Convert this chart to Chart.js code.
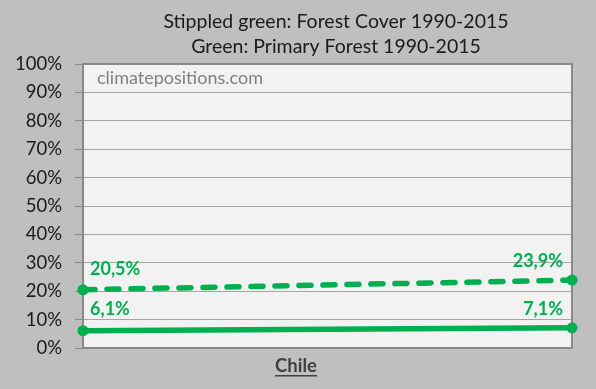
<!DOCTYPE html>
<html><head><meta charset="utf-8">
<script src="https://cdn.jsdelivr.net/npm/chart.js@4/dist/chart.umd.min.js"></script>
<style>html,body{margin:0;padding:0;background:#bfbfbf;}#c{display:block;}</style>
</head><body>
<canvas id="c" width="596" height="389"></canvas>
<script>
const years = ['1990', '2015'];
const forestCover = [20.5, 23.9];
const primaryForest = [6.1, 7.1];
const forestLabels = ['20,5%', '23,9%'];
const primaryLabels = ['6,1%', '7,1%'];
const titleLines = ['Stippled green: Forest Cover 1990-2015', 'Green: Primary Forest 1990-2015'];
const countryLabel = 'Chile';
const watermark = 'climatepositions.com';

const GREEN = '#00b050';
const FONT = 'Lato, "Liberation Sans", sans-serif';

const decor = {
  id: 'decor',
  beforeDraw(chart) {
    const {ctx, chartArea: a} = chart;
    ctx.save();
    ctx.fillStyle = '#bfbfbf';
    ctx.fillRect(0, 0, chart.width, chart.height);
    ctx.fillStyle = '#f2f2f2';
    ctx.fillRect(a.left, a.top, a.right - a.left, a.bottom - a.top);
    ctx.restore();
  },
  beforeDatasetsDraw(chart) {
    const {ctx, chartArea: a} = chart;
    ctx.save();
    ctx.strokeStyle = '#898989';
    ctx.lineWidth = 2;
    ctx.strokeRect(a.left, a.top, a.right - a.left, a.bottom - a.top);
    // watermark
    ctx.fillStyle = '#7f7f7f';
    ctx.font = '18px ' + FONT;
    ctx.textBaseline = 'middle';
    ctx.textAlign = 'left';
    ctx.fillText(watermark, a.left + 14, a.top + 14);
    // title
    ctx.fillStyle = '#1a1a1a';
    ctx.font = '19.5px ' + FONT;
    ctx.textAlign = 'center';
    ctx.fillText(titleLines[0], 336, 22);
    ctx.fillText(titleLines[1], 336, 47);
    // x label
    ctx.fillStyle = '#404040';
    ctx.font = 'bold 18.5px ' + FONT;
    ctx.fillText(countryLabel, 296, 366);
    const w = ctx.measureText(countryLabel).width;
    ctx.fillRect(296 - w / 2, 375, w, 1.5);
    ctx.restore();
  },
  afterDatasetsDraw(chart) {
    const {ctx} = chart;
    ctx.save();
    ctx.fillStyle = GREEN;
    ctx.font = 'bold 18px ' + FONT;
    ctx.textBaseline = 'middle';
    const sets = [[0, forestLabels], [1, primaryLabels]];
    sets.forEach(([di, labels]) => {
      const meta = chart.getDatasetMeta(di);
      meta.data.forEach((pt, i) => {
        if (i === 0) {
          ctx.textAlign = 'left';
          ctx.fillText(labels[i], pt.x + 7, pt.y - 21);
        } else {
          ctx.textAlign = 'right';
          ctx.fillText(labels[i], pt.x - 9, pt.y - 19);
        }
      });
    });
    ctx.restore();
  }
};

new Chart(document.getElementById('c'), {
  type: 'line',
  data: {
    labels: years,
    datasets: [
      {
        data: forestCover,
        borderColor: GREEN, backgroundColor: GREEN,
        borderWidth: 5.5, borderDash: [12, 12], borderCapStyle: 'round',
        pointRadius: 5.5, pointBackgroundColor: GREEN, pointBorderWidth: 0,
        clip: false
      },
      {
        data: primaryForest,
        borderColor: GREEN, backgroundColor: GREEN,
        borderWidth: 5.5, borderCapStyle: 'round',
        pointRadius: 5.5, pointBackgroundColor: GREEN, pointBorderWidth: 0,
        clip: false
      }
    ]
  },
  options: {
    responsive: false,
    animation: false,
    devicePixelRatio: 1,
    layout: {padding: {left: 0, right: 24, top: 64, bottom: 41}},
    plugins: {legend: {display: false}, tooltip: {enabled: false}, title: {display: false}},
    scales: {
      x: {display: false, offset: false},
      y: {
        min: 0, max: 100,
        afterFit(s) { s.width = 83; },
        border: {display: false},
        grid: {color: '#a6a6a6', lineWidth: 1, tickLength: 8, tickColor: '#898989', drawTicks: true},
        ticks: {stepSize: 10, padding: 13, color: '#1a1a1a', font: {family: FONT, size: 18.5},
          callback: v => v + '%'}
      }
    }
  },
  plugins: [decor]
});
</script>
</body></html>
